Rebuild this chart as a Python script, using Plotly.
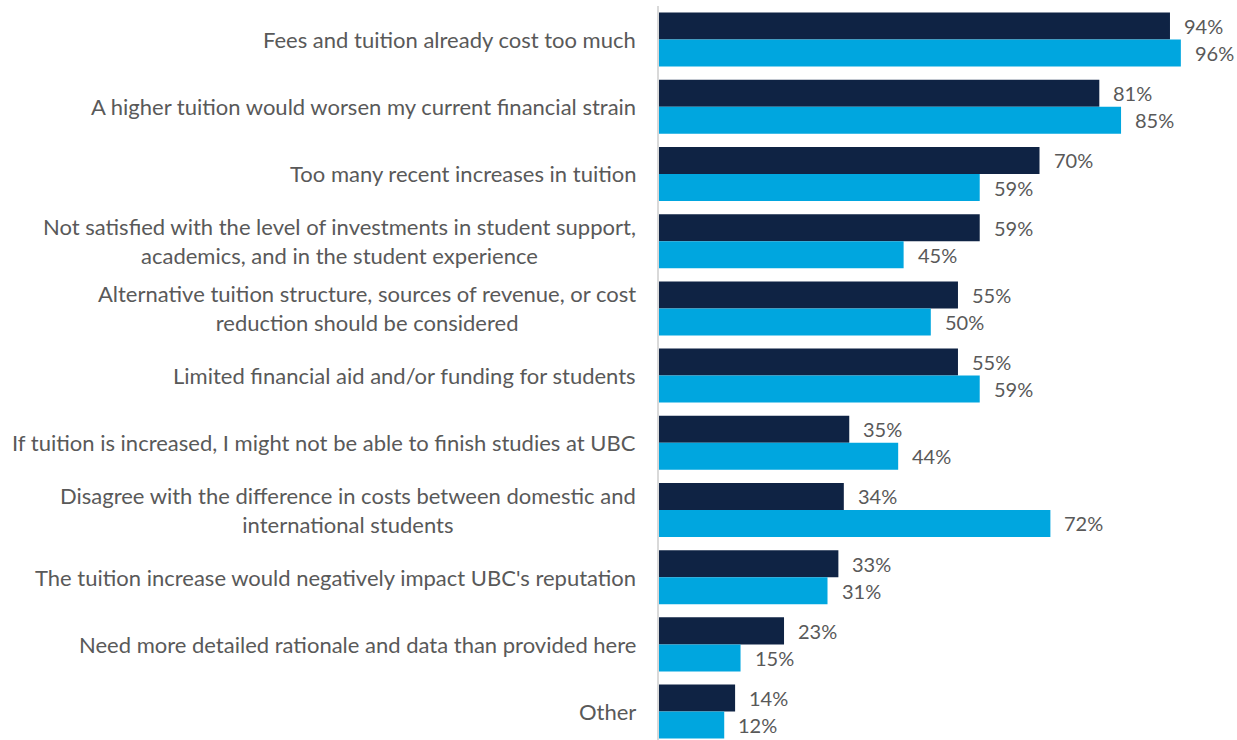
import plotly.graph_objects as go

# Survey reasons (top to bottom) and the share choosing each, per respondent group
categories = [
    "Fees and tuition already cost too much",
    "A higher tuition would worsen my current financial strain",
    "Too many recent increases in tuition",
    "Not satisfied with the level of investments in student support,<br>academics, and in the student experience",
    "Alternative tuition structure, sources of revenue, or cost<br>reduction should be considered",
    "Limited financial aid and/or funding for students",
    "If tuition is increased, I might not be able to finish studies at UBC",
    "Disagree with the difference in costs between domestic and<br>international students",
    "The tuition increase would negatively impact UBC's reputation",
    "Need more detailed rationale and data than provided here",
    "Other",
]
group_a = [94, 81, 70, 59, 55, 55, 35, 34, 33, 23, 14]
group_b = [96, 85, 59, 45, 50, 59, 44, 72, 31, 15, 12]

DARK = "#0F2344"
LIGHT = "#00A6DF"
TEXT = "#595959"
FONT = "Lato"

idx = list(range(len(categories)))

fig = go.Figure()
fig.add_trace(go.Bar(y=idx, x=group_a, orientation="h", name="Group A",
                     marker=dict(color=DARK, line=dict(width=0))))
fig.add_trace(go.Bar(y=idx, x=group_b, orientation="h", name="Group B",
                     marker=dict(color=LIGHT, line=dict(width=0))))

annotations = []
# value labels to the right of each bar
offset = (1 - 0.196) / 4
for i, (a, b) in enumerate(zip(group_a, group_b)):
    for v, dy in ((a, -offset), (b, offset)):
        annotations.append(dict(
            x=v, y=i + dy, xref="x", yref="y", text=f"{v}%",
            showarrow=False, xanchor="left", yanchor="middle", xshift=12,
            font=dict(family=FONT, size=20, color=TEXT)))
# category labels, centred lines, right edge next to the axis
for i, c in enumerate(categories):
    annotations.append(dict(
        x=0, y=i, xref="paper", yref="y", text=c, showarrow=False,
        xanchor="right", yanchor="middle", align="center", xshift=-21,
        font=dict(family=FONT, size=22, color=TEXT)))

fig.update_layout(
    width=1237, height=740,
    margin=dict(l=659, r=0, t=6, b=0),
    paper_bgcolor="white", plot_bgcolor="white",
    barmode="group", bargap=0.196, bargroupgap=0,
    showlegend=False,
    annotations=annotations,
    xaxis=dict(range=[0, 106.33], visible=False),
    yaxis=dict(range=[10.423, -0.5], showticklabels=False, showgrid=False,
               zeroline=False, showline=True, linecolor="#D9D9D9", linewidth=2,
               ticks=""),
    hovermode=False,
)

fig.write_html("out.html", config={"displayModeBar": False})
